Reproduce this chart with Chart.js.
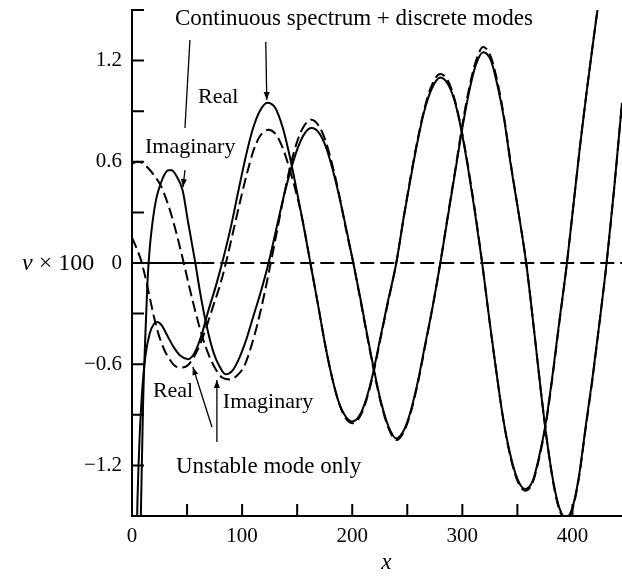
<!DOCTYPE html>
<html>
<head>
<meta charset="utf-8">
<script src="https://cdn.jsdelivr.net/npm/chart.js@4.4.0/dist/chart.umd.min.js"></script>
<style>
  html, body { margin: 0; padding: 0; background: #fff; }
  #wrap { width: 622px; height: 576px; position: relative; }
</style>
</head>
<body>
<div id="wrap"><canvas id="myChart"></canvas></div>
<script>
// values: v x 100 against x

// continuous spectrum + discrete modes, real part (solid)
const realFullX = [1, 3, 5, 7, 9, 12, 16, 20, 23, 27, 32, 38, 44, 51, 57, 63, 69, 76, 83, 90, 97, 104, 110, 116, 123, 130, 137, 143, 149, 155, 162, 169, 175, 181, 187, 193, 200, 207, 213, 219, 225, 232, 240, 247, 253, 259, 265, 272, 280, 287, 293, 299, 305, 311, 318, 325, 331, 337, 343, 350, 357, 364, 370, 376, 382, 388, 395, 401, 407, 413, 419, 425, 431];
const realFullY = [-3.0, -2.0, -1.4, -1.02, -0.78, -0.56, -0.42, -0.36, -0.35, -0.37, -0.43, -0.5, -0.55, -0.57, -0.53, -0.43, -0.29, -0.14, 0.03, 0.22, 0.44, 0.65, 0.8, 0.9, 0.95, 0.92, 0.8, 0.64, 0.45, 0.25, 0.0, -0.25, -0.47, -0.66, -0.81, -0.9, -0.94, -0.9, -0.8, -0.65, -0.46, -0.24, 0.0, 0.28, 0.5, 0.71, 0.89, 1.03, 1.1, 1.06, 0.96, 0.79, 0.57, 0.32, 0.0, -0.36, -0.65, -0.92, -1.12, -1.28, -1.34, -1.29, -1.14, -0.94, -0.66, -0.35, 0.0, 0.35, 0.7, 1.02, 1.32, 1.6, 1.8];

// continuous spectrum + discrete modes, imaginary part (solid)
const imagFullX = [6, 8, 10, 12, 14, 16, 19, 22, 26, 30, 33, 36, 40, 46, 51, 57, 62, 68, 74, 80, 85, 91, 97, 104, 110, 117, 124, 131, 138, 145, 151, 157, 163, 170, 176, 182, 188, 194, 201, 208, 214, 220, 226, 233, 240, 247, 253, 260, 266, 273, 280, 287, 294, 300, 306, 312, 319, 326, 332, 338, 344, 351, 358, 365, 371, 377, 383, 388, 394, 400, 406, 412, 418, 425, 431, 438, 445];
const imagFullY = [-2.5, -1.5, -0.85, -0.45, -0.12, 0.08, 0.26, 0.38, 0.47, 0.53, 0.55, 0.55, 0.52, 0.43, 0.24, 0.02, -0.18, -0.38, -0.53, -0.62, -0.66, -0.64, -0.57, -0.45, -0.32, -0.17, 0.0, 0.2, 0.4, 0.57, 0.69, 0.77, 0.8, 0.77, 0.69, 0.56, 0.4, 0.22, 0.0, -0.23, -0.44, -0.64, -0.82, -0.97, -1.04, -0.99, -0.88, -0.69, -0.49, -0.26, 0.0, 0.28, 0.56, 0.8, 1.01, 1.17, 1.25, 1.2, 1.05, 0.85, 0.58, 0.3, 0.0, -0.39, -0.74, -1.06, -1.31, -1.45, -1.51, -1.45, -1.26, -0.97, -0.69, -0.33, 0.0, 0.45, 0.95];

// unstable mode only, real part (dashed)
const realModeX = [0, 4, 8, 12, 16, 20, 24, 29, 34, 39, 44, 50, 56, 62, 68, 74, 80, 86, 92, 98, 104, 110, 116, 124, 131, 137, 143, 149, 155, 162, 169, 175, 181, 187, 193, 200, 207, 213, 219, 225, 232, 240, 247, 253, 259, 265, 272, 280, 287, 293, 299, 305, 311, 318, 325, 331, 337, 343, 350, 357, 364, 370, 376, 382, 388, 395, 401, 407, 413, 419, 425, 431];
const realModeY = [0.15, 0.09, 0.02, -0.08, -0.2, -0.32, -0.42, -0.51, -0.57, -0.61, -0.62, -0.61, -0.56, -0.48, -0.37, -0.25, -0.13, 0.02, 0.19, 0.36, 0.52, 0.66, 0.75, 0.79, 0.76, 0.68, 0.56, 0.42, 0.25, 0.0, -0.25, -0.47, -0.66, -0.81, -0.91, -0.95, -0.91, -0.81, -0.66, -0.47, -0.25, 0.0, 0.28, 0.51, 0.72, 0.9, 1.05, 1.12, 1.08, 0.97, 0.8, 0.58, 0.33, 0.0, -0.36, -0.65, -0.92, -1.13, -1.29, -1.35, -1.3, -1.15, -0.95, -0.67, -0.36, 0.0, 0.35, 0.7, 1.02, 1.32, 1.6, 1.8];

// unstable mode only, imaginary part (dashed)
const imagModeX = [0, 5, 10, 15, 20, 26, 31, 36, 41, 47, 52, 58, 64, 70, 76, 82, 89, 95, 102, 108, 114, 120, 126, 132, 138, 144, 150, 156, 163, 170, 176, 182, 188, 194, 201, 208, 214, 220, 226, 233, 240, 247, 253, 260, 266, 273, 280, 287, 294, 300, 306, 312, 319, 326, 332, 338, 344, 351, 358, 365, 371, 377, 383, 388, 394, 400, 406, 412, 418, 425, 431, 438, 445];
const imagModeY = [0.59, 0.6, 0.59, 0.56, 0.52, 0.46, 0.38, 0.28, 0.16, 0.0, -0.14, -0.3, -0.44, -0.55, -0.63, -0.68, -0.69, -0.67, -0.61, -0.5, -0.36, -0.19, 0.0, 0.2, 0.4, 0.58, 0.72, 0.81, 0.85, 0.81, 0.72, 0.58, 0.41, 0.21, 0.0, -0.24, -0.45, -0.65, -0.83, -0.98, -1.05, -1.0, -0.89, -0.7, -0.5, -0.26, 0.0, 0.29, 0.57, 0.82, 1.03, 1.19, 1.28, 1.22, 1.07, 0.86, 0.59, 0.3, 0.0, -0.39, -0.74, -1.06, -1.32, -1.46, -1.52, -1.46, -1.27, -0.98, -0.7, -0.33, 0.0, 0.45, 0.95];

// the v = 0 line: solid near the origin, dashed after
const zeroSolidX = [0, 62];
const zeroDashX = [62, 445];

// tick labels
const xLabelValues = [0, 100, 200, 300, 400];
const yLabelValues = [-1.2, -0.6, 0, 0.6, 1.2];

const serif = '"Liberation Serif", "Times New Roman", serif';

function pts(xs, ys) {
    return xs.map((x, i) => ({ x: x, y: ys[i] }));
}

// labels and pointers, placed in data units
const notes = [
    { text: 'Continuous spectrum + discrete modes', x: 39, v: 1.411, size: 23 },
    { text: 'Real', x: 59.9, v: 0.949, size: 22 },
    { text: 'Imaginary', x: 11.8, v: 0.652, size: 22 },
    { text: 'Real', x: 19, v: -0.794, size: 22 },
    { text: 'Imaginary', x: 82.5, v: -0.86, size: 22 },
    { text: 'Unstable mode only', x: 39.9, v: -1.245, size: 23 }
];
const pointers = [
    { from: [52.6, 1.322], to: [48.1, 0.80], head: false },
    { from: [48.1, 0.551], to: [46.3, 0.45], head: true },
    { from: [121.5, 1.31], to: [122.4, 0.966], head: true },
    { from: [72.6, -0.972], to: [55.3, -0.617], head: true },
    { from: [77.1, -1.061], to: [77.1, -0.694], head: true }
];

const figureText = {
    id: 'figureText',
    afterDatasetsDraw(chart) {
        const ctx = chart.ctx;
        const xs = chart.scales.x, ys = chart.scales.y;
        const area = chart.chartArea;
        ctx.save();
        ctx.strokeStyle = '#000';
        ctx.fillStyle = '#000';
        ctx.lineWidth = 2;

        // tick marks point into the plot
        ctx.beginPath();
        xs.ticks.forEach(t => {
            if (t.value > 0 && t.value % 50 === 0) {
                const px = xs.getPixelForValue(t.value);
                ctx.moveTo(px, area.bottom);
                ctx.lineTo(px, area.bottom - 12);
            }
        });
        ys.ticks.forEach(t => {
            if (t.value > -1.49) {
                const py = ys.getPixelForValue(t.value);
                ctx.moveTo(area.left, py);
                ctx.lineTo(area.left + 12, py);
            }
        });
        ctx.stroke();

        // pointers
        ctx.lineWidth = 1.3;
        pointers.forEach(p => {
            const x1 = xs.getPixelForValue(p.from[0]), y1 = ys.getPixelForValue(p.from[1]);
            const x2 = xs.getPixelForValue(p.to[0]), y2 = ys.getPixelForValue(p.to[1]);
            ctx.beginPath();
            ctx.moveTo(x1, y1);
            ctx.lineTo(x2, y2);
            ctx.stroke();
            if (p.head) {
                const a = Math.atan2(y2 - y1, x2 - x1);
                ctx.beginPath();
                ctx.moveTo(x2, y2);
                ctx.lineTo(x2 - 8 * Math.cos(a) + 3 * Math.sin(a), y2 - 8 * Math.sin(a) - 3 * Math.cos(a));
                ctx.lineTo(x2 - 8 * Math.cos(a) - 3 * Math.sin(a), y2 - 8 * Math.sin(a) + 3 * Math.cos(a));
                ctx.closePath();
                ctx.fill();
            }
        });

        // text
        ctx.textBaseline = 'alphabetic';
        ctx.textAlign = 'left';
        notes.forEach(n => {
            ctx.font = n.size + 'px ' + serif;
            ctx.fillText(n.text, xs.getPixelForValue(n.x), ys.getPixelForValue(n.v));
        });

        // axis titles
        const yBase = ys.getPixelForValue(0) + 7;
        ctx.font = 'italic 24px ' + serif;
        ctx.fillText('v', 22, yBase);
        const vw = ctx.measureText('v').width;
        ctx.font = '24px ' + serif;
        ctx.fillText(' \u00d7 100', 22 + vw, yBase);

        ctx.font = 'italic 23px ' + serif;
        ctx.textAlign = 'center';
        ctx.fillText('x', xs.getPixelForValue(231), 569);
        ctx.restore();
    }
};

const ctx = document.getElementById('myChart');

new Chart(ctx, {
    type: 'line',
    data: {
        datasets: [
            { data: pts(realFullX, realFullY), borderColor: '#000', borderWidth: 2, pointRadius: 0, cubicInterpolationMode: 'monotone' },
            { data: pts(imagFullX, imagFullY), borderColor: '#000', borderWidth: 2, pointRadius: 0, cubicInterpolationMode: 'monotone' },
            { data: pts(realModeX, realModeY), borderColor: '#000', borderWidth: 2, borderDash: [11, 5], pointRadius: 0, cubicInterpolationMode: 'monotone' },
            { data: pts(imagModeX, imagModeY), borderColor: '#000', borderWidth: 2, borderDash: [11, 5], pointRadius: 0, cubicInterpolationMode: 'monotone' },
            { data: pts(zeroSolidX, [0, 0]), borderColor: '#000', borderWidth: 2, pointRadius: 0 },
            { data: pts(zeroDashX, [0, 0]), borderColor: '#000', borderWidth: 2, borderDash: [14, 6], pointRadius: 0 }
        ]
    },
    options: {
        responsive: true,
        maintainAspectRatio: false,
        animation: false,
        layout: { padding: { top: 10, right: 0, left: 0, bottom: 0 } },
        plugins: { legend: { display: false }, tooltip: { enabled: false } },
        scales: {
            x: {
                type: 'linear',
                min: 0,
                max: 445,
                afterFit: (scale) => {
                    scale.height = 60;
                    scale.paddingLeft = 0;
                    scale.paddingRight = 0;
                },
                grid: { display: false, drawTicks: false },
                border: { display: true, color: '#000', width: 2 },
                ticks: {
                    stepSize: 50,
                    includeBounds: false,
                    autoSkip: false,
                    maxRotation: 0,
                    padding: 8,
                    color: '#000',
                    font: { family: serif, size: 21 },
                    callback: (v) => xLabelValues.includes(v) ? String(v) : ''
                }
            },
            y: {
                min: -1.5,
                max: 1.5,
                afterFit: (scale) => {
                    scale.width = 132;
                    scale.paddingTop = 0;
                    scale.paddingBottom = 0;
                },
                grid: { display: false, drawTicks: false },
                border: { display: true, color: '#000', width: 2 },
                ticks: {
                    stepSize: 0.3,
                    autoSkip: false,
                    padding: 10,
                    color: '#000',
                    font: { family: serif, size: 21 },
                    callback: (v) => {
                        const hit = yLabelValues.find(l => Math.abs(l - v) < 1e-6);
                        if (hit === undefined) return '';
                        if (hit === 0) return '0';
                        return (hit < 0 ? '\u2212' : '') + Math.abs(hit).toFixed(1);
                    }
                }
            }
        }
    },
    plugins: [figureText]
});
</script>
</body>
</html>
